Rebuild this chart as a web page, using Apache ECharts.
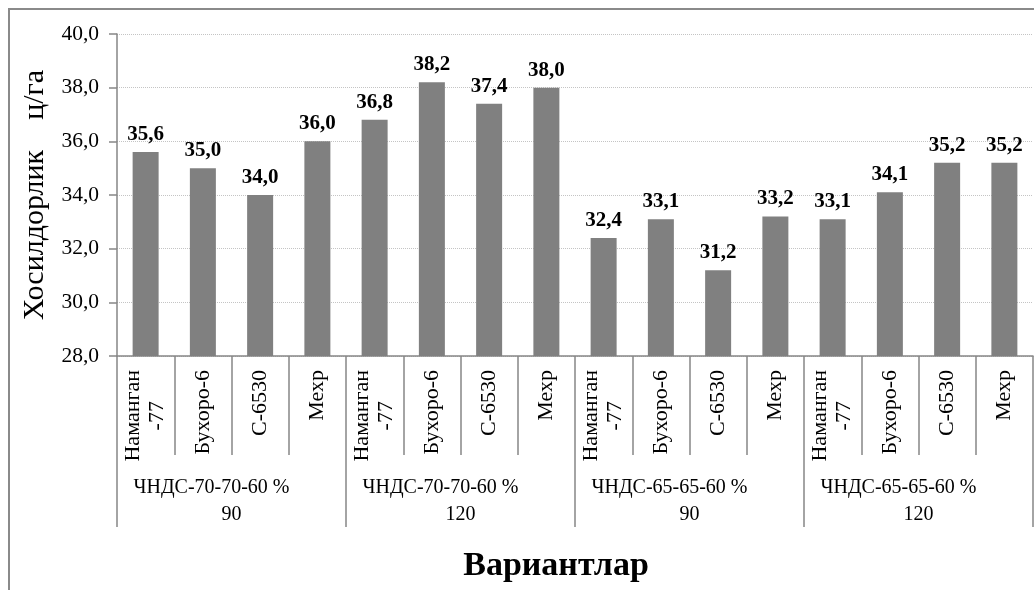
<!DOCTYPE html>
<html>
<head>
<meta charset="utf-8">
<script src="https://cdn.jsdelivr.net/npm/echarts@6/dist/echarts.min.js"></script>
<style>
  html, body { margin: 0; padding: 0; background: #fff; }
  #chart { width: 1034px; height: 590px; }
</style>
</head>
<body>
<div id="chart"></div>
<script>
// Varieties within each fertiliser group
const varieties = ['Наманган\n-77', 'Бухоро-6', 'С-6530', 'Мехр',
                   'Наманган\n-77', 'Бухоро-6', 'С-6530', 'Мехр',
                   'Наманган\n-77', 'Бухоро-6', 'С-6530', 'Мехр',
                   'Наманган\n-77', 'Бухоро-6', 'С-6530', 'Мехр'];
// Fertiliser schemes (lower row of the category axis)
const groupNames = ['ЧНДС-70-70-60 %', 'ЧНДС-70-70-60 %', 'ЧНДС-65-65-60 %', 'ЧНДС-65-65-60 %'];
const groupDoses = ['90', '120', '90', '120'];
// Yield, centners per hectare
const yieldValues = [35.6, 35.0, 34.0, 36.0,
                     36.8, 38.2, 37.4, 38.0,
                     32.4, 33.1, 31.2, 33.2,
                     33.1, 34.1, 35.2, 35.2];
const yTicks = { min: 28, max: 40, step: 2 };

const FONT = "'Liberation Serif', 'Times New Roman', serif";
const AXIS_GREY = '#868686';
const comma = v => Number(v).toFixed(1).replace('.', ',');
const pad = '\u00a0'.repeat(8);

const chart = echarts.init(document.getElementById('chart'), null, { renderer: 'canvas' });

chart.setOption({
  animation: false,
  backgroundColor: '#ffffff',
  textStyle: { fontFamily: FONT },
  graphic: [{
    type: 'rect',
    shape: { x: 9, y: 9, width: 1040, height: 600 },
    style: { fill: 'none', stroke: '#8a8a8a', lineWidth: 2 },
    silent: true
  }],
  title: {
    text: 'Вариантлар',
    left: 551, top: 544, textAlign: 'center',
    textStyle: { fontFamily: FONT, fontSize: 34, fontWeight: 'bold', color: '#000' }
  },
  grid: { left: 117, right: 1, top: 34, bottom: 234, containLabel: false },
  xAxis: [{
    type: 'category',
    data: varieties,
    position: 'bottom',
    axisLine: { show: true, lineStyle: { color: AXIS_GREY, width: 1.5 } },
    axisTick: { show: true, interval: 0, length: 99, lineStyle: { color: AXIS_GREY, width: 1.5 } },
    axisLabel: {
      interval: 0, rotate: 90, margin: 14,
      fontFamily: FONT, fontSize: 22, color: '#000', lineHeight: 24,
      formatter: v => {
        const parts = v.split('\n');
        if (parts.length === 1) return v;
        return '{a|' + parts[0] + '}\n{b|' + parts[1] + '}';
      },
      rich: {
        a: { fontFamily: FONT, fontSize: 22, color: '#000', lineHeight: 24 },
        b: { fontFamily: FONT, fontSize: 22, color: '#000', lineHeight: 24, align: 'center' }
      }
    },
    splitLine: { show: false }
  }, {
    type: 'category',
    data: groupNames.map((g, i) => g + pad + '\n' + groupDoses[i]),
    position: 'bottom',
    axisLine: { show: false },
    axisTick: { show: true, interval: 0, length: 171, lineStyle: { color: AXIS_GREY, width: 1.5 } },
    axisLabel: {
      interval: 0, margin: 118,
      fontFamily: FONT, fontSize: 20, color: '#000', lineHeight: 27, align: 'center'
    },
    splitLine: { show: false }
  }],
  yAxis: {
    type: 'value',
    min: yTicks.min, max: yTicks.max, interval: yTicks.step,
    name: 'Хосилдорлик    ц/га',
    nameLocation: 'middle',
    nameGap: 64,
    nameTextStyle: { fontFamily: FONT, fontSize: 30, color: '#000' },
    axisLine: { show: true, lineStyle: { color: AXIS_GREY, width: 1.5 } },
    axisTick: { show: true, inside: false, length: 8, lineStyle: { color: AXIS_GREY, width: 1.5 } },
    axisLabel: {
      margin: 18, fontFamily: FONT, fontSize: 21.5, color: '#000',
      formatter: v => comma(v)
    },
    splitLine: { show: true, lineStyle: { color: '#c4c4c4', type: 'dotted', width: 1 } }
  },
  series: [{
    type: 'bar',
    xAxisIndex: 0,
    data: yieldValues,
    barWidth: 26,
    itemStyle: { color: '#808080' },
    label: {
      show: true, position: 'top', distance: 7,
      fontFamily: FONT, fontSize: 21, fontWeight: 'bold', color: '#000',
      formatter: p => comma(p.value)
    }
  }]
});
</script>
</body>
</html>
